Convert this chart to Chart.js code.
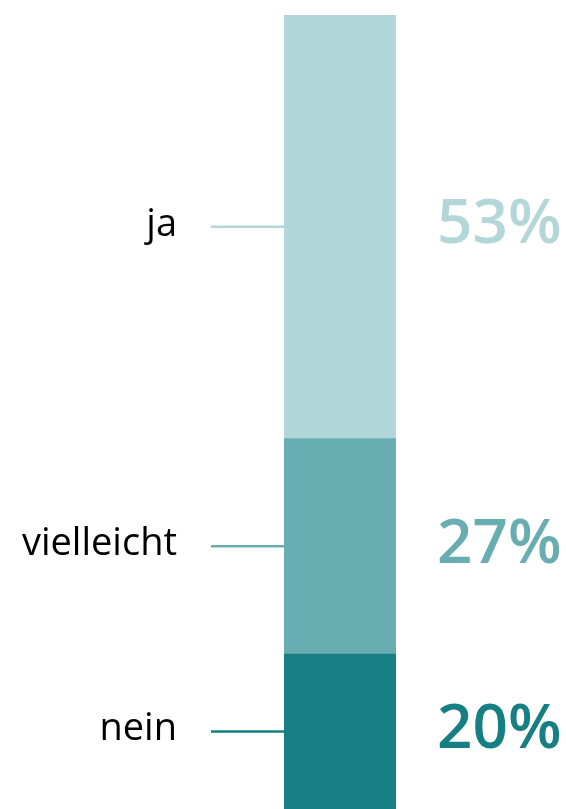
<!DOCTYPE html>
<html>
<head>
<meta charset="utf-8">
<script src="https://cdn.jsdelivr.net/npm/chart.js@4/dist/chart.umd.min.js"></script>
<style>
html,body{margin:0;padding:0;background:#fff;overflow:hidden;}
#wrap{position:relative;width:566px;height:814px;}
</style>
</head>
<body>
<div id="wrap"><canvas id="c"></canvas></div>
<script>
const categories = ["Antwort"];
const seriesLabels = ["nein", "vielleicht", "ja"];
const seriesValues = [20, 27, 53];
const seriesColors = ["#157f83", "#68adb1", "#b3d7d9"];
const percentLabels = ["20%", "27%", "53%"];

const VISIBLE_H = 809;

const labelPlugin = {
  id: 'labelPlugin',
  afterDatasetsDraw(chart) {
    const ctx = chart.ctx;
    chart.data.datasets.forEach((ds, i) => {
      const meta = chart.getDatasetMeta(i);
      const el = meta.data[0];
      const top = Math.min(el.y, el.base);
      const bottom = Math.min(Math.max(el.y, el.base), VISIBLE_H);
      const cy = (top + bottom) / 2;
      const left = el.x - el.width / 2;
      const right = el.x + el.width / 2;
      ctx.save();
      ctx.strokeStyle = ds.backgroundColor;
      ctx.lineWidth = 2.5;
      ctx.beginPath();
      ctx.moveTo(211, cy);
      ctx.lineTo(left, cy);
      ctx.stroke();
      ctx.fillStyle = '#000';
      ctx.font = '38px "Open Sans", sans-serif';
      ctx.textAlign = 'right';
      ctx.textBaseline = 'middle';
      ctx.fillText(ds.label, 177, cy - 2);
      ctx.fillStyle = ds.backgroundColor;
      ctx.font = '600 62px "Open Sans", sans-serif';
      ctx.textAlign = 'left';
      ctx.fillText(percentLabels[i], right + 41, cy - 1);
      ctx.restore();
    });
  }
};

new Chart(document.getElementById('c'), {
  type: 'bar',
  data: {
    labels: categories,
    datasets: seriesLabels.map((l, i) => ({
      label: l,
      data: [seriesValues[i]],
      backgroundColor: seriesColors[i],
      borderWidth: 0,
      barPercentage: 1,
      categoryPercentage: 1
    }))
  },
  options: {
    responsive: true,
    maintainAspectRatio: false,
    animation: false,
    layout: { padding: { left: 284, right: 170, top: 15, bottom: 0 } },
    plugins: { legend: { display: false }, tooltip: { enabled: false } },
    scales: {
      x: { stacked: true, display: false },
      y: { stacked: true, display: false, min: 0, max: 100 }
    }
  },
  plugins: [labelPlugin]
});
</script>
</body>
</html>
